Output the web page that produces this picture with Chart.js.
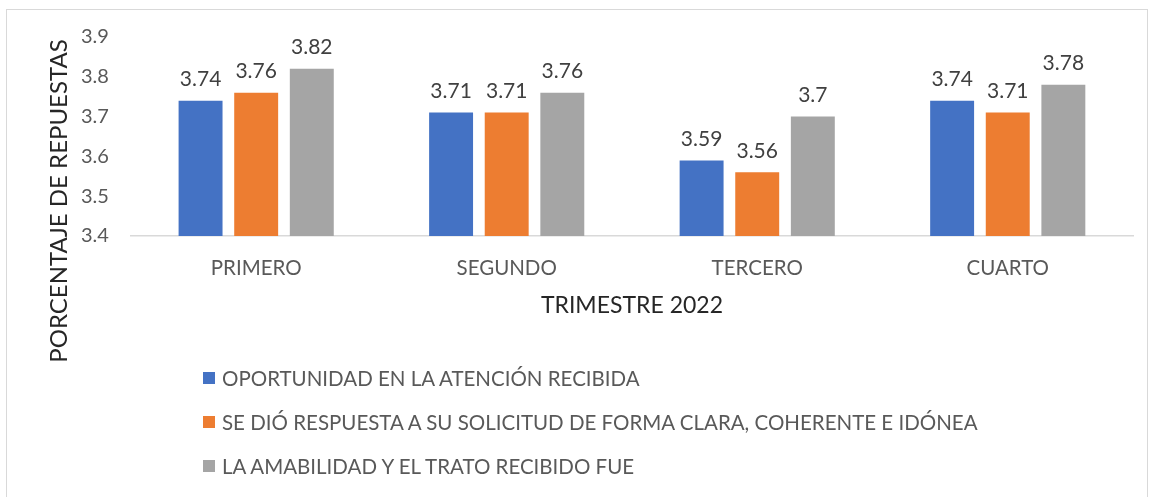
<!DOCTYPE html>
<html lang="es">
<head>
<meta charset="UTF-8" />
<title>Trimestre 2022</title>
<script src="https://cdn.jsdelivr.net/npm/chart.js@4.4.0/dist/chart.umd.min.js"></script>
<style>
  body { margin: 0; background: #fff; }
  #wrap { position: relative; width: 1156px; height: 497px; overflow: hidden; }
  #frame { position: absolute; left: 6px; top: 9px; width: 1140px; height: 600px; border: 1.5px solid #d9d9d9; }
  #chart { position: absolute; left: 0; top: 0; }
  #legend { position: absolute; left: 203px; top: 365px; font-family: Lato, "Open Sans", sans-serif; font-size: 20.5px; color: #595959; }
  #legend div { height: 44px; line-height: 26px; display: flex; align-items: flex-start; }
  #legend span.box { display: inline-block; width: 12px; height: 12px; margin: 7px 7px 0 0; }
</style>
</head>
<body>
<div id="wrap">
  <div id="frame"></div>
  <canvas id="chart" width="1156" height="497"></canvas>
  <div id="legend"></div>
</div>
<script>
const categories = ["PRIMERO", "SEGUNDO", "TERCERO", "CUARTO"];
const seriesNames = [
  "OPORTUNIDAD EN LA ATENCIÓN RECIBIDA",
  "SE DIÓ RESPUESTA A SU SOLICITUD DE FORMA CLARA, COHERENTE E IDÓNEA",
  "LA AMABILIDAD Y EL TRATO RECIBIDO FUE"
];
const oportunidad = [3.74, 3.71, 3.59, 3.74];
const respuesta = [3.76, 3.71, 3.56, 3.71];
const amabilidad = [3.82, 3.76, 3.7, 3.78];
const colors = ["#4472C4", "#ED7D31", "#A5A5A5"];
const xTitle = "TRIMESTRE 2022";
const yTitle = "PORCENTAJE DE REPUESTAS";

const font = "Lato, 'Open Sans', sans-serif";
const textColor = "#595959";

// value labels above each bar + axis titles placed like the original
const extras = {
  id: "extras",
  afterDatasetsDraw(chart) {
    const ctx = chart.ctx;
    const area = chart.chartArea;
    ctx.save();
    ctx.font = "21px " + font;
    ctx.fillStyle = "#404040";
    ctx.textAlign = "center";
    ctx.textBaseline = "bottom";
    chart.data.datasets.forEach((ds, i) => {
      chart.getDatasetMeta(i).data.forEach((bar, j) => {
        ctx.fillText(String(ds.data[j]), bar.x, bar.y - 11);
      });
    });

    ctx.fillStyle = "#262626";
    ctx.textBaseline = "middle";
    ctx.font = "23px " + font;
    ctx.fillText(xTitle, (area.left + area.right) / 2, area.bottom + 70);

    ctx.font = "24px " + font;
    ctx.translate(59, area.bottom - 35);
    ctx.rotate(-Math.PI / 2);
    ctx.fillText(yTitle, 0, 0);
    ctx.restore();
  }
};

const seriesData = [oportunidad, respuesta, amabilidad];

new Chart(document.getElementById("chart"), {
  type: "bar",
  data: {
    labels: categories,
    datasets: seriesNames.map((name, i) => ({
      label: name,
      data: seriesData[i],
      backgroundColor: colors[i],
      categoryPercentage: 0.666,
      barPercentage: 0.79
    }))
  },
  options: {
    responsive: false,
    animation: false,
    layout: { padding: { top: 37, left: 59, right: 23, bottom: 150 } },
    plugins: {
      legend: { display: false },
      tooltip: { enabled: false }
    },
    scales: {
      x: {
        grid: { display: false, drawTicks: false },
        border: { color: "#d9d9d9", width: 1.5 },
        ticks: { color: textColor, font: { family: font, size: 20.5 }, padding: 20 },
        afterFit(scale) { scale.height = 261 - 150; }
      },
      y: {
        min: 3.4, max: 3.9,
        ticks: { stepSize: 0.1, color: textColor, font: { family: font, size: 20 }, padding: 22,
          callback: v => v.toFixed(1) },
        grid: { display: false, drawTicks: false },
        border: { display: false }
      }
    }
  },
  plugins: [extras]
});

const legend = document.getElementById("legend");
seriesNames.forEach((name, i) => {
  const row = document.createElement("div");
  const box = document.createElement("span");
  box.className = "box";
  box.style.background = colors[i];
  row.appendChild(box);
  row.appendChild(document.createTextNode(name));
  legend.appendChild(row);
});
</script>
</body>
</html>
